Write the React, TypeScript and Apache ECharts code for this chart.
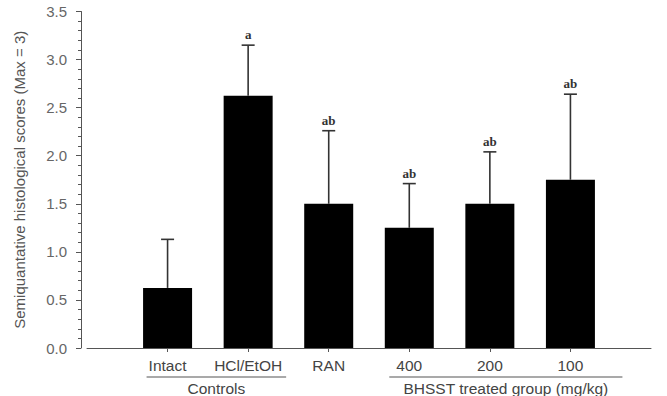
import React, { useEffect, useRef } from 'react';
import * as echarts from 'echarts';

const categories = ['Intact', 'HCl/EtOH', 'RAN', '400', '200', '100'];
const means = [0.625, 2.625, 1.5, 1.25, 1.5, 1.75];
const upperErrors = [1.13, 3.15, 2.26, 1.71, 2.04, 2.64];
const sigLetters = ['', 'a', 'ab', 'ab', 'ab', 'ab'];
const yMin = 0;
const yMax = 3.5;
const yStep = 0.5;
const yTitle = 'Semiquantative histological scores (Max = 3)';
const groupLabels = ['Controls', 'BHSST treated group (mg/kg)'];
const groupFrom = [0, 3];
const groupTo = [1, 5];

export default function App() {
  const ref = useRef<HTMLDivElement>(null);

  useEffect(() => {
    if (!ref.current) return;
    const chart = echarts.init(ref.current, undefined, { renderer: 'svg' });
    const axisData = ['', ...categories, ''];
    const sans = 'Liberation Sans, Arial, sans-serif';

    chart.setOption({
      animation: false,
      grid: { left: 87, right: 16, top: 11.5, bottom: 48, containLabel: false },
      xAxis: {
        type: 'category',
        data: axisData,
        boundaryGap: false,
        axisLine: { show: true, lineStyle: { color: '#555', width: 1 } },
        axisTick: {
          show: true,
          length: 4,
          lineStyle: { color: '#555' },
          interval: (i: number) => i >= 1 && i <= categories.length,
        },
        axisLabel: {
          interval: 0,
          fontSize: 15.5,
          fontFamily: sans,
          color: '#444',
          margin: 9,
        },
        splitLine: { show: false },
      },
      yAxis: {
        type: 'value',
        min: yMin,
        max: yMax,
        interval: yStep,
        offset: 6,
        axisLine: { show: true, lineStyle: { color: '#555', width: 1 } },
        axisTick: { show: true, length: 5, lineStyle: { color: '#555' } },
        minorTick: { show: true, splitNumber: 5, length: 3, lineStyle: { color: '#555' } },
        splitLine: { show: false },
        minorSplitLine: { show: false },
        axisLabel: {
          formatter: (v: number) => v.toFixed(1),
          fontSize: 15,
          fontFamily: sans,
          color: '#666',
          margin: 14,
        },
        name: yTitle,
        nameLocation: 'middle',
        nameGap: 54,
        nameTextStyle: { fontSize: 15, fontFamily: sans, color: '#555' },
      },
      series: [
        {
          type: 'bar',
          data: means.map((v, i) => [i + 1, v]),
          barWidth: 49,
          itemStyle: { color: '#000' },
        },
        {
          type: 'custom',
          data: means.map((v, i) => [i + 1, v, upperErrors[i]]),
          encode: { x: 0, y: [1, 2] },
          renderItem: (params: any, api: any) => {
            const x = api.value(0);
            const lo = api.value(1);
            const hi = api.value(2);
            const p0 = api.coord([x, lo]);
            const p1 = api.coord([x, hi]);
            const half = 6.5;
            return {
              type: 'group',
              children: [
                {
                  type: 'line',
                  shape: { x1: p0[0], y1: p0[1], x2: p1[0], y2: p1[1] },
                  style: { stroke: '#333', lineWidth: 1.6 },
                },
                {
                  type: 'line',
                  shape: { x1: p1[0] - half, y1: p1[1], x2: p1[0] + half, y2: p1[1] },
                  style: { stroke: '#333', lineWidth: 1.6 },
                },
                {
                  type: 'text',
                  x: p1[0],
                  y: p1[1] - 4,
                  style: {
                    text: sigLetters[params.dataIndex],
                    fontSize: 13,
                    fontWeight: 'bold',
                    fontFamily: 'Liberation Serif, Times New Roman, serif',
                    fill: '#333',
                    align: 'center',
                    verticalAlign: 'bottom',
                  },
                },
              ],
            };
          },
          z: 3,
        },
      ],
    });

    const px = (i: number) => chart.convertToPixel({ xAxisIndex: 0 }, i + 1) as unknown as number;
    const lineY = 377;
    const graphics: any[] = [];
    const leftPad = [21, 20];
    const rightPad = [38, 52];
    groupLabels.forEach((label, g) => {
      const x1 = px(groupFrom[g]) - leftPad[g];
      const x2 = px(groupTo[g]) + rightPad[g];
      graphics.push({
        type: 'line',
        shape: { x1, y1: lineY, x2, y2: lineY },
        style: { stroke: '#555', lineWidth: 1.2 },
      });
      graphics.push({
        type: 'text',
        x: (x1 + x2) / 2,
        y: lineY + 11,
        style: {
          text: label,
          fontSize: 15.5,
          fontFamily: sans,
          fill: '#444',
          align: 'center',
          verticalAlign: 'middle',
        },
      });
    });
    chart.setOption({ graphic: graphics });

    return () => chart.dispose();
  }, []);

  return (
    <div
      ref={ref}
      style={{ position: 'absolute', left: 0, top: 0, width: 667, height: 396 }}
    />
  );
}
